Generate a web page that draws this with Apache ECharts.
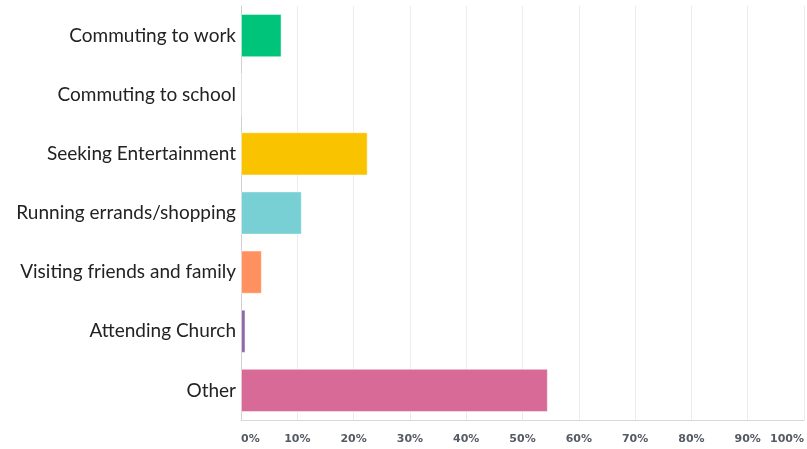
<!DOCTYPE html>
<html>
<head>
<meta charset="utf-8">
<script src="https://cdn.jsdelivr.net/npm/echarts@6/dist/echarts.min.js"></script>
<style>
  html, body { margin: 0; padding: 0; background: #fff; }
  #app { width: 807px; height: 449px; }
</style>
</head>
<body>
<div id="app"></div>
<script>
// answer choices, top to bottom
const categories = [
  "Commuting to work",
  "Commuting to school",
  "Seeking Entertainment",
  "Running errands/shopping",
  "Visiting friends and family",
  "Attending Church",
  "Other"
];
// share of responses, percent
const values = [7.2, 0, 22.5, 10.8, 3.7, 0.8, 54.5];
const barColors = ["#00c47a", "#00c47a", "#f9c300", "#78d0d4", "#ff9160", "#8f6aa6", "#d86a98"];
const tickLabels = ["0%", "10%", "20%", "30%", "40%", "50%", "60%", "70%", "80%", "90%", "100%"];

const chart = echarts.init(document.getElementById("app"));

chart.setOption({
  animation: false,
  backgroundColor: "#fff",
  grid: { left: 241, right: 2, top: 6, bottom: 29 },
  xAxis: {
    type: "value",
    min: 0,
    max: 100,
    interval: 10,
    axisLine: { show: true, lineStyle: { color: "#d8d8d8" } },
    axisTick: { show: false },
    splitLine: { lineStyle: { color: "#ececec" } },
    axisLabel: {
      formatter: v => tickLabels[Math.round(v / 10)],
      color: "#555b63",
      fontFamily: "DejaVu Sans",
      fontWeight: "bold",
      fontSize: 11,
      margin: 14,
      alignMinLabel: "left",
      alignMaxLabel: "right"
    }
  },
  yAxis: {
    type: "category",
    inverse: true,
    data: categories,
    axisLine: { show: true, lineStyle: { color: "#d0d0d0" } },
    axisTick: { show: false },
    axisLabel: {
      color: "#222",
      fontFamily: "Lato",
      fontSize: 19,
      margin: 5
    }
  },
  series: [{
    type: "bar",
    barWidth: "73%",
    data: values.map((v, i) => ({
      value: v,
      itemStyle: { color: barColors[i], borderColor: "rgba(255,255,255,0.45)", borderWidth: 1 }
    }))
  }]
});
</script>
</body>
</html>
